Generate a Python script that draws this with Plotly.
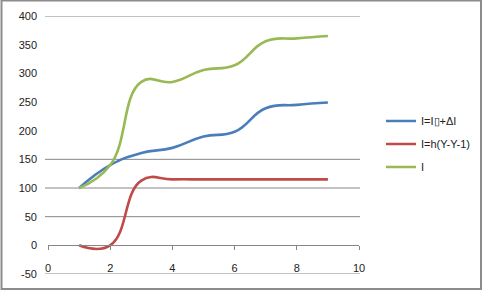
import plotly.graph_objects as go

x_vals = [1, 2, 3, 4, 5, 6, 7, 8, 9]
blue_vals = [100, 140, 161, 170, 190, 198, 239, 245, 249]
red_vals = [0, 0, 113, 115, 115, 115, 115, 115, 115]
green_vals = [100, 140, 285, 285, 306, 314, 356, 361, 365]

names = ["I=I\u25AF+\u0394I", "I=h(Y-Y-1)", "I"]
colors = ["#4A7EBB", "#BE4B48", "#98B954"]
y_ticks = [-50, 0, 50, 100, 150, 200, 250, 300, 350, 400]
y_text = ["-50", "0", "50", "100", "150", "200", "250", "300", "350", "400"]
grid_vals = [-50, 50, 100, 150, 400]
x_ticks = [0, 2, 4, 6, 8, 10]

W, H = 483, 290
ML, MR, MT, MB = 48, 124, 16, 16
PW = W - ML - MR
PH = H - MT - MB
Y_RANGE = [-50, 400]

def px_x(p):
    return (p - ML) / PW

def px_y(p):
    return (H - MB - p) / PH

fig = go.Figure()
for i, (ys, nm) in enumerate(zip([blue_vals, red_vals, green_vals], names)):
    fig.add_trace(go.Scatter(
        x=x_vals, y=ys, name=nm, mode="lines",
        line=dict(color=colors[i], width=2.6, shape="spline", smoothing=1.3),
        legendgroup=str(i),
    ))

font = dict(family="Liberation Sans, Arial, sans-serif", size=11, color="#222222")

shapes = [dict(type="rect", xref="paper", yref="paper",
               x0=px_x(1.5), x1=px_x(481), y0=px_y(0.5), y1=px_y(289),
               line=dict(color="#8C8C8C", width=2), layer="below")]
for g in grid_vals:
    shapes.append(dict(type="line", xref="paper", yref="y",
                       x0=px_x(45), x1=px_x(360), y0=g, y1=g,
                       line=dict(color="#868686", width=1), layer="below"))

fig.update_layout(
    width=W, height=H,
    margin=dict(l=ML, r=MR, t=MT, b=MB, autoexpand=False),
    paper_bgcolor="white", plot_bgcolor="white",
    font=font,
    showlegend=True,
    legend=dict(x=px_x(381), y=px_y(106.5), xanchor="left", yanchor="top",
                font=font, tracegroupgap=4, bgcolor="rgba(0,0,0,0)"),
    xaxis=dict(range=[0, 10], tickvals=x_ticks, showgrid=False, zeroline=False,
               anchor="free", position=(0 - Y_RANGE[0]) / (Y_RANGE[1] - Y_RANGE[0]),
               showline=True, linecolor="#868686",
               linewidth=1, ticks="outside", ticklen=4, tickcolor="#868686",
               ticklabelstandoff=8, tickfont=font),
    yaxis=dict(range=Y_RANGE, tickvals=y_ticks, ticktext=y_text, showgrid=False, zeroline=False,
               showline=False, ticks="", ticklabelstandoff=10, tickfont=font),
    shapes=shapes,
)

fig.write_html("out.html")
